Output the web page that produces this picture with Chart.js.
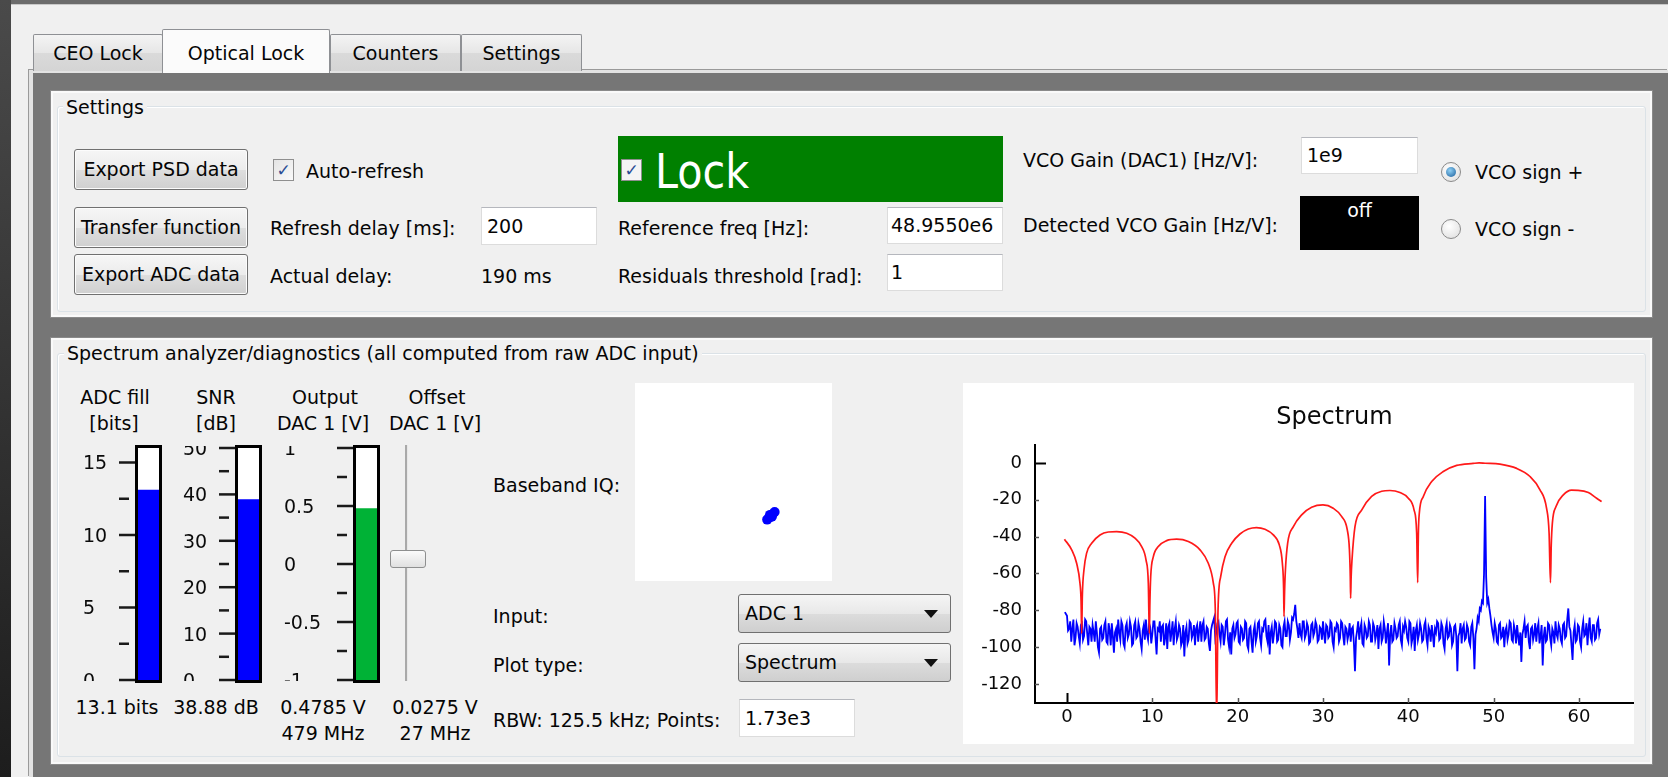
<!DOCTYPE html>
<html><head><meta charset="utf-8">
<script src="https://cdn.jsdelivr.net/npm/chart.js@4.4.1/dist/chart.umd.min.js"></script>
<style>
*{box-sizing:border-box}
html,body{margin:0;padding:0}
body{width:1668px;height:777px;overflow:hidden;position:relative;background:#f0f0f0;font-family:'DejaVu Sans',sans-serif;font-size:19px;color:#050505}
.a{position:absolute}
.t{position:absolute;white-space:nowrap;height:24px;line-height:24px}
.ct{position:absolute;white-space:nowrap;height:24px;line-height:24px;width:200px;text-align:center}
.tab{position:absolute;border:1px solid #8e9094;border-bottom:none;border-radius:2px 2px 0 0;background:linear-gradient(#f4f4f4,#e6e6e6 50%,#dadada 51%,#d4d4d4);text-align:center;height:37px;top:34px;line-height:36px}
.gb{position:absolute;background:#f0f0f0;border:2px solid #fafafa;box-shadow:0 0 0 1px #8a8a8a}
.fr{position:absolute;border:1px solid #dbe2e7;border-radius:3px;box-shadow:inset 1px 1px 0 #fff}
.btn{position:absolute;border:1px solid #707070;border-radius:3px;background:linear-gradient(#f6f6f6 0%,#ececec 50%,#dedede 51%,#d0d0d0 100%);text-align:center;white-space:nowrap;box-shadow:inset 0 0 0 1px #fcfcfc}
.in{position:absolute;background:#fff;border:1px solid #dcdcdc;border-top-color:#b5b7bd;padding-left:5px;white-space:nowrap}
.cb{position:absolute;width:21px;height:22px;border:1px solid #8f8f8f;background:linear-gradient(135deg,#e4e4e4,#fafafa);color:#2b4c94;font-size:17px;line-height:20px;text-align:center;font-weight:bold}
.rb{position:absolute;width:20px;height:20px;border-radius:50%;border:1px solid #8a8a8a;background:radial-gradient(circle at 40% 35%,#fff,#dcdcdc)}
.combo{position:absolute;border:1px solid #707070;border-radius:3px;background:linear-gradient(#f5f5f5,#e8e8e8 50%,#dcdcdc 51%,#cfcfcf);padding-left:6px;line-height:37px;white-space:nowrap}
.arrow{position:absolute;right:12px;top:15px;width:0;height:0;border-left:7px solid transparent;border-right:7px solid transparent;border-top:8px solid #111}
canvas{position:absolute;display:block}
</style></head>
<body>
<div class="a" style="left:0;top:0;width:11px;height:777px;background:linear-gradient(#4a4a4a,#1d1d1d)"></div>
<div class="a" style="left:11px;top:0;width:1657px;height:4px;background:#6c6c6c"></div>
<div class="a" style="left:11px;top:4px;width:1657px;height:1px;background:#c9c9c9"></div>

<!-- tab pane -->
<div class="a" style="left:29px;top:70px;width:1639px;height:707px;background:#767676;border-left:4px solid #e2e2e2;border-top:3px solid #e2e2e2;box-shadow:-1px -1px 0 #9a9a9a"></div>
<div class="tab" style="left:33px;width:130px">CEO Lock</div>
<div class="tab" style="left:330px;width:131px">Counters</div>
<div class="tab" style="left:461px;width:121px">Settings</div>
<div class="tab" style="left:162px;width:168px;top:29px;height:44px;line-height:46px;background:#fbfbfb;z-index:2">Optical Lock</div>

<!-- Settings group -->
<div class="gb" style="left:51px;top:91px;width:1601px;height:226px"></div>
<div class="fr" style="left:57px;top:106px;width:1589px;height:206px"></div>
<div class="t" style="left:63px;top:95px;background:#f0f0f0;padding:0 3px">Settings</div>

<div class="btn" style="left:74px;top:149px;width:174px;height:41px;line-height:39px">Export PSD data</div>
<div class="btn" style="left:74px;top:207px;width:174px;height:41px;line-height:39px">Transfer function</div>
<div class="btn" style="left:74px;top:254px;width:174px;height:41px;line-height:39px">Export ADC data</div>

<div class="cb" style="left:273px;top:159px">✓</div>
<div class="t" style="left:306px;top:159px">Auto-refresh</div>
<div class="t" style="left:270px;top:216px">Refresh delay [ms]:</div>
<div class="in" style="left:481px;top:207px;width:116px;height:38px;line-height:36px">200</div>
<div class="t" style="left:270px;top:264px">Actual delay:</div>
<div class="t" style="left:481px;top:264px">190 ms</div>

<div class="a" style="left:618px;top:136px;width:385px;height:66px;background:#008000"></div>
<div class="cb" style="left:621px;top:159px;background:#f4f4f4">✓</div>
<div class="a" style="left:655px;top:138px;height:66px;line-height:66px;font-size:48px;color:#fff;white-space:nowrap;transform:scaleX(0.86);transform-origin:0 0">Lock</div>

<div class="t" style="left:618px;top:216px">Reference freq [Hz]:</div>
<div class="in" style="left:887px;top:207px;width:116px;height:37px;line-height:35px;padding-left:3px">48.9550e6</div>
<div class="t" style="left:618px;top:264px">Residuals threshold [rad]:</div>
<div class="in" style="left:887px;top:254px;width:116px;height:37px;line-height:35px;padding-left:3px">1</div>

<div class="t" style="left:1023px;top:148px">VCO Gain (DAC1) [Hz/V]:</div>
<div class="in" style="left:1301px;top:137px;width:117px;height:37px;line-height:35px">1e9</div>
<div class="t" style="left:1023px;top:213px">Detected VCO Gain [Hz/V]:</div>
<div class="a" style="left:1300px;top:196px;width:119px;height:54px;background:#000;color:#fff;text-align:center;line-height:28px">off</div>

<div class="rb" style="left:1441px;top:162px"><div class="a" style="left:4px;top:4px;width:10px;height:10px;border-radius:50%;background:radial-gradient(circle at 40% 35%,#8fd0f5,#1a5d9a)"></div></div>
<div class="t" style="left:1475px;top:160px">VCO sign +</div>
<div class="rb" style="left:1441px;top:219px"></div>
<div class="t" style="left:1475px;top:217px">VCO sign -</div>

<!-- Spectrum group -->
<div class="gb" style="left:51px;top:338px;width:1601px;height:426px"></div>
<div class="fr" style="left:57px;top:353px;width:1589px;height:404px"></div>
<div class="t" style="left:64px;top:341px;background:#f0f0f0;padding:0 3px">Spectrum analyzer/diagnostics (all computed from raw ADC input)</div>

<div class="ct" style="left:15px;top:385px">ADC fill</div>
<div class="ct" style="left:14px;top:411px">[bits]</div>
<div class="ct" style="left:116px;top:385px">SNR</div>
<div class="ct" style="left:116px;top:411px">[dB]</div>
<div class="ct" style="left:225px;top:385px">Output</div>
<div class="ct" style="left:223px;top:411px">DAC 1 [V]</div>
<div class="ct" style="left:337px;top:385px">Offset</div>
<div class="ct" style="left:335px;top:411px">DAC 1 [V]</div>

<div class="ct" style="left:17px;top:695px">13.1 bits</div>
<div class="ct" style="left:116px;top:695px">38.88 dB</div>
<div class="ct" style="left:223px;top:695px">0.4785 V</div>
<div class="ct" style="left:223px;top:721px">479 MHz</div>
<div class="ct" style="left:335px;top:695px">0.0275 V</div>
<div class="ct" style="left:335px;top:721px">27 MHz</div>

<canvas id="g0" width="86" height="250" style="left:78px;top:440px"></canvas>
<canvas id="g1" width="86" height="250" style="left:178px;top:440px"></canvas>
<canvas id="g2" width="103" height="250" style="left:279px;top:440px"></canvas>

<div class="a" style="left:405px;top:445px;width:3px;height:236px;background:#a9a9a9;border-right:1px solid #e8e8e8"></div>
<div class="a" style="left:390px;top:550px;width:36px;height:18px;border:1px solid #8e8f8f;border-radius:3px;background:linear-gradient(#fbfbfb,#e0e0e0)"></div>

<div class="t" style="left:493px;top:473px">Baseband IQ:</div>
<canvas id="iq" width="197" height="198" style="left:635px;top:383px;background:#fff"></canvas>
<div class="t" style="left:493px;top:604px">Input:</div>
<div class="combo" style="left:738px;top:594px;width:213px;height:39px">ADC 1<div class="arrow"></div></div>
<div class="t" style="left:493px;top:653px">Plot type:</div>
<div class="combo" style="left:738px;top:643px;width:213px;height:39px">Spectrum<div class="arrow"></div></div>
<div class="t" style="left:493px;top:708px">RBW: 125.5 kHz; Points:</div>
<div class="in" style="left:739px;top:699px;width:116px;height:38px;line-height:36px">1.73e3</div>

<canvas id="spec" width="671" height="361" style="left:963px;top:383px;background:#fff"></canvas>

<script>
// ---------------- data ----------------
const specTitle = 'Spectrum';
const xTickValues = [0, 10, 20, 30, 40, 50, 60];
const yTickValues = [0, -20, -40, -60, -80, -100, -120];

// red trace (filter response), frequency [MHz] and level [dB]
const redFreq = [
  -0.3, 0.55, 1.13, 1.52, 1.65, 1.72,
  1.8, 1.99, 2.30, 2.89, 3.87, 4.84, 5.82, 7.0, 7.97, 8.75, 9.26, 9.53, 9.65,
  9.72, 9.81, 10.12, 10.7, 11.68, 12.85, 14.22, 15.59, 16.56, 17.15, 17.38, 17.54,
  17.7, 18.01, 18.52, 19.3, 20.27, 21.25, 22.2, 23.2, 24.18, 24.88, 25.24, 25.39, 25.43,
  25.5, 25.6, 25.86, 26.53, 27.5, 28.67, 30.0, 31.2, 32.2, 32.85, 33.1, 33.2, 33.24,
  33.3, 33.4, 33.75, 34.53, 35.7, 36.88, 37.85, 39.02, 40.0, 40.67, 40.98, 41.1,
  41.18, 41.29, 41.76, 42.74, 44.1, 45.67, 47.6, 48.3, 49.0, 50.74, 52.7, 54.26, 55.43, 56.2, 56.5, 56.66,
  56.75, 56.88, 57.31, 58.17, 59.14, 59.9, 61.1, 62.07, 62.66
];
const redLevel = [
  -41.4, -47.2, -54.5, -65.3, -75, -92.5,
  -72, -58, -49, -43.6, -39.1, -37.5, -37.3, -38.2, -40.9, -45.4, -52.7, -65.3, -92.5,
  -75, -61.7, -50.9, -45.4, -42.2, -41.4, -42.7, -47.2, -54.5, -65.3, -79.8, -140,
  -79.8, -61.7, -50.9, -43.6, -38.6, -35.9, -35.1, -36.0, -39.1, -44.5, -54.5, -69, -83.4,
  -70, -58, -43.6, -34.6, -28.2, -24.1, -22.8, -24.6, -29.2, -36.4, -47.2, -61.7, -73.5,
  -62, -52.7, -34.6, -25.6, -18.2, -15.4, -15.0, -16.1, -19.2, -25.5, -38.2, -65,
  -38, -27.3, -18.2, -10.1, -4.7, -1.4, -0.3, 0, -0.2, -0.7, -3.0, -7.4, -14.6, -24.6, -38.2, -65,
  -45, -32.8, -23.7, -17.4, -14.8, -14.9, -16.1, -19.2, -21
];

// blue trace (measured spectrum), bins from blueF0 in steps of blueDF [MHz], level [dB]
const blueF0 = -0.25;
const blueDF = 0.125;
const blueLevel = [
  -81, -82, -83, -91, -90, -86, -97, -90, -85, -99, -95, -87, -89, -94, -98, -88,
  -87, -96, -94, -85, -86, -93, -99, -89, -90, -97, -88, -92, -97, -86, -92, -100,
  -103, -90, -89, -96, -95, -88, -86, -97, -98, -87, -91, -99, -87, -94, -103, -92,
  -90, -97, -85, -92, -96, -86, -88, -98, -100, -89, -87, -95, -93, -86, -89, -99,
  -98, -88, -86, -95, -94, -87, -90, -97, -101, -91, -88, -96, -85, -93, -96, -87,
  -89, -98, -93, -86, -86, -95, -104, -90, -91, -86, -97, -89, -88, -99, -95, -87,
  -101, -89, -87, -97, -92, -86, -99, -90, -86, -96, -94, -88, -90, -99, -97, -88,
  -105, -92, -89, -98, -96, -86, -87, -95, -93, -88, -99, -90, -88, -97, -91, -86,
  -97, -88, -86, -96, -95, -89, -90, -98, -102, -91, -88, -86, -84, -95, -92, -87,
  -86, -93, -97, -88, -89, -99, -94, -86, -85, -96, -100, -92, -104, -90, -88, -95,
  -93, -87, -86, -97, -98, -89, -90, -96, -95, -86, -87, -99, -101, -90, -89, -97,
  -103, -91, -88, -97, -94, -87, -86, -95, -99, -90, -91, -86, -85, -94, -97, -88,
  -104, -92, -89, -98, -93, -86, -87, -97, -96, -88, -90, -99, -100, -89, -86, -94,
  -94, -86, -88, -96, -92, -84, -85, -82, -77, -86, -90, -95, -87, -93, -95, -86,
  -86, -95, -93, -87, -89, -98, -97, -88, -87, -94, -92, -86, -88, -97, -96, -89,
  -90, -96, -86, -93, -98, -88, -89, -95, -94, -86, -87, -97, -100, -90, -91, -87,
  -88, -97, -95, -86, -87, -94, -99, -89, -90, -96, -93, -87, -97, -90, -89, -98,
  -113, -95, -91, -86, -96, -90, -87, -98, -99, -88, -90, -95, -94, -86, -88, -97,
  -97, -87, -89, -96, -93, -88, -101, -90, -88, -97, -95, -86, -90, -98, -92, -87,
  -110, -93, -88, -97, -96, -87, -90, -95, -94, -88, -86, -96, -99, -89, -91, -86,
  -89, -95, -97, -86, -87, -98, -95, -89, -102, -91, -88, -96, -93, -87, -90, -97,
  -96, -88, -86, -95, -99, -89, -91, -97, -88, -93, -100, -90, -92, -86, -87, -96,
  -95, -87, -89, -98, -101, -90, -87, -95, -94, -88, -90, -99, -97, -89, -88, -94,
  -113, -94, -92, -87, -98, -90, -88, -96, -95, -88, -90, -97, -99, -89, -87, -95,
  -112, -93, -90, -84, -86, -79, -80, -75, -76, -60, -18, -62, -76, -74, -79, -83,
  -88, -92, -95, -87, -90, -97, -98, -88, -87, -95, -94, -89, -100, -91, -89, -96,
  -93, -86, -87, -96, -97, -88, -91, -98, -88, -94, -99, -92, -108, -93, -90, -86,
  -95, -89, -88, -97, -101, -90, -89, -96, -93, -87, -97, -90, -87, -98, -94, -88,
  -110, -94, -89, -97, -96, -87, -88, -95, -99, -90, -92, -98, -86, -93, -95, -88,
  -90, -96, -98, -88, -87, -95, -94, -85, -79, -89, -91, -99, -107, -92, -88, -97,
  -96, -88, -89, -97, -100, -90, -86, -94, -93, -87, -99, -90, -84, -95, -97, -88,
  -88, -96, -95, -87, -85, -93, -90
];

// baseband IQ samples
const iqI = [0.36, 0.38, 0.40, 0.42, 0.44, 0.39, 0.41];
const iqQ = [-0.40, -0.38, -0.36, -0.34, -0.32, -0.35, -0.37];

// gauges: ADC fill [bits], SNR [dB], Output DAC 1 [V]
const gaugeValues = [13.1, 38.88, 0.4785];
const gaugeMin = [0, 0, -1];
const gaugeMax = [16, 50, 1];
const gaugeMajorTicks = [[0, 5, 10, 15], [0, 10, 20, 30, 40, 50], [-1, -0.5, 0, 0.5, 1]];
const gaugeMinorTicks = [[2.5, 7.5, 12.5], [5, 15, 25, 35, 45], [-0.75, -0.25, 0.25, 0.75]];

// ---------------- styles ----------------
Chart.defaults.font.family = "'DejaVu Sans', sans-serif";
Chart.defaults.color = '#0a0a0a';
const gaugeFill = ['#0000ff', '#0000ff', '#00b236'];
const gaugeLayout = [{pl: 60, pr: 5}, {pl: 60, pr: 5}, {pl: 77, pr: 5}];

function gaugePlugin(k) {
  return {
    id: 'gaugeDeco' + k,
    beforeDatasetsDraw(chart) {
      const a = chart.chartArea, c = chart.ctx;
      c.save(); c.fillStyle = '#fff';
      c.fillRect(a.left, a.top, a.right - a.left, a.bottom - a.top);
      c.restore();
    },
    afterDatasetsDraw(chart) {
      const a = chart.chartArea, c = chart.ctx, y = chart.scales.y;
      c.save();
      c.strokeStyle = '#000'; c.lineWidth = 3;
      c.strokeRect(a.left - 1.5, a.top - 1.5, a.right - a.left + 3, a.bottom - a.top + 3);
      c.strokeStyle = '#1a1a1a'; c.lineWidth = 2.5;
      gaugeMajorTicks[k].forEach(v => {
        const p = y.getPixelForValue(v);
        c.beginPath(); c.moveTo(a.left - 19, p); c.lineTo(a.left - 3, p); c.stroke();
      });
      gaugeMinorTicks[k].forEach(v => {
        const p = y.getPixelForValue(v);
        c.beginPath(); c.moveTo(a.left - 19, p); c.lineTo(a.left - 9, p); c.stroke();
      });
      c.beginPath(); c.rect(0, 6, chart.width, 235); c.clip();
      c.fillStyle = '#0a0a0a'; c.font = "19px 'DejaVu Sans'";
      c.textAlign = 'left'; c.textBaseline = 'middle';
      gaugeMajorTicks[k].forEach(v => c.fillText(String(v), 5, y.getPixelForValue(v) + 2));
      c.restore();
    }
  };
}

for (let k = 0; k < 3; k++) {
  new Chart(document.getElementById('g' + k), {
    type: 'bar',
    data: {labels: [''], datasets: [{data: [[gaugeMin[k], gaugeValues[k]]], backgroundColor: gaugeFill[k], borderWidth: 0, barPercentage: 1, categoryPercentage: 1}]},
    options: {
      responsive: false, animation: false, devicePixelRatio: 1,
      layout: {padding: {left: gaugeLayout[k].pl, right: gaugeLayout[k].pr, top: 8, bottom: 10}},
      plugins: {legend: {display: false}, tooltip: {enabled: false}},
      scales: {x: {display: false}, y: {display: false, min: gaugeMin[k], max: gaugeMax[k]}}
    },
    plugins: [gaugePlugin(k)]
  });
}

new Chart(document.getElementById('iq'), {
  type: 'scatter',
  data: {datasets: [{data: iqI.map((v, i) => ({x: v, y: iqQ[i]})), backgroundColor: '#0000ff', borderWidth: 0, pointRadius: 5}]},
  options: {
    responsive: false, animation: false, devicePixelRatio: 1,
    layout: {padding: 0},
    plugins: {legend: {display: false}, tooltip: {enabled: false}},
    scales: {x: {display: false, min: -1, max: 1}, y: {display: false, min: -1, max: 1}}
  }
});

const innerTicks = {
  id: 'innerTicks',
  afterDraw(chart) {
    const {ctx, chartArea: a, scales: {x, y}} = chart;
    ctx.save();
    xTickValues.forEach(v => {
      const p = Math.round(x.getPixelForValue(v)) + 0.5;
      ctx.strokeStyle = v === 0 ? '#000' : '#555'; ctx.lineWidth = v === 0 ? 2 : 1.5;
      ctx.beginPath(); ctx.moveTo(p, a.bottom); ctx.lineTo(p, a.bottom - (v === 0 ? 10 : 5)); ctx.stroke();
    });
    yTickValues.forEach(v => {
      const p = Math.round(y.getPixelForValue(v)) + 0.5;
      ctx.strokeStyle = v === 0 ? '#000' : '#555'; ctx.lineWidth = v === 0 ? 2 : 1.5;
      ctx.beginPath(); ctx.moveTo(a.left, p); ctx.lineTo(a.left + (v === 0 ? 11 : 4), p); ctx.stroke();
    });
    ctx.restore();
  }
};

new Chart(document.getElementById('spec'), {
  type: 'line',
  data: {datasets: [
    {data: redFreq.map((f, i) => ({x: f, y: redLevel[i]})), borderColor: 'rgb(255,25,25)', borderWidth: 1.7, pointRadius: 0, cubicInterpolationMode: 'monotone', fill: false},
    {data: blueLevel.map((v, i) => ({x: blueF0 + i * blueDF, y: v})), borderColor: '#0000ff', borderWidth: 1.8, pointRadius: 0, tension: 0, fill: false}
  ]},
  options: {
    responsive: false, animation: false, devicePixelRatio: 1,
    layout: {padding: 0},
    plugins: {
      legend: {display: false}, tooltip: {enabled: false},
      title: {display: true, text: specTitle, fullSize: false, color: '#0a0a0a', font: {size: 24, weight: 'normal'}, padding: {top: 20, bottom: 13}}
    },
    scales: {
      x: {type: 'linear', min: -3.75, max: 66.45,
        afterBuildTicks: s => { s.ticks = xTickValues.map(v => ({value: v})); },
        afterFit: s => { s.height = 41; },
        grid: {display: false, drawTicks: false},
        border: {display: true, color: '#000', width: 2},
        ticks: {padding: 4, color: '#0a0a0a', font: {size: 18}, maxRotation: 0, autoSkip: false, callback: v => String(v)}},
      y: {type: 'linear', min: -130.3, max: 9.8,
        afterBuildTicks: s => { s.ticks = yTickValues.map(v => ({value: v})); },
        afterFit: s => { s.width = 72; },
        grid: {display: false, drawTicks: false},
        border: {display: true, color: '#000', width: 2},
        ticks: {padding: 13, color: '#0a0a0a', font: {size: 18}, autoSkip: false, callback: v => String(v)}}
    }
  },
  plugins: [innerTicks]
});
</script>
</body></html>
